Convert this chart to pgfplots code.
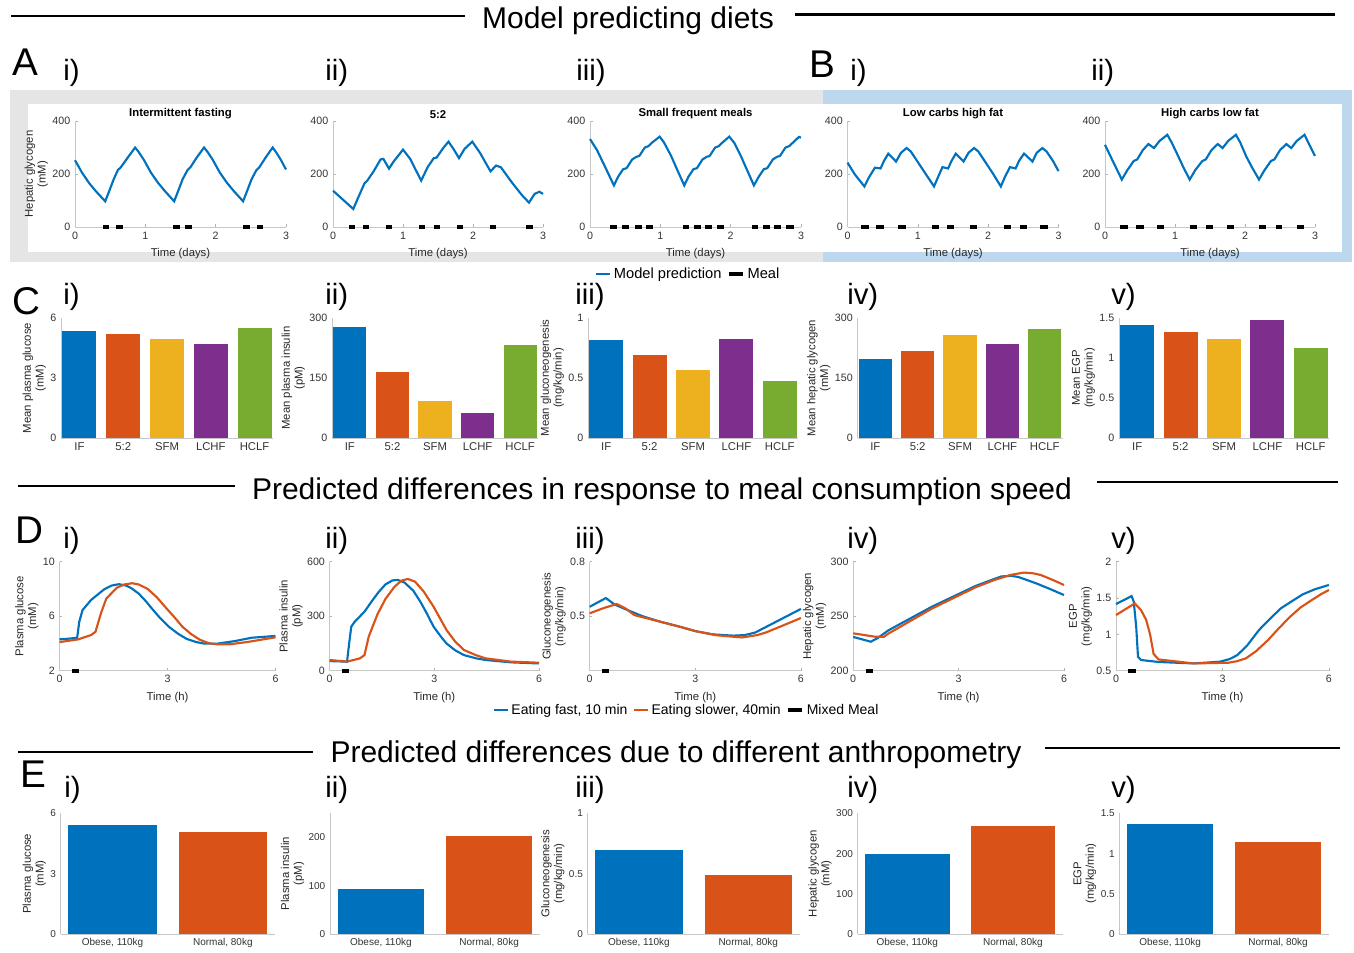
\documentclass[border=0pt]{standalone}
\usepackage{fontspec}
\setmainfont{Liberation Sans}
\usepackage{pgfplots}
\pgfplotsset{compat=1.18}

\definecolor{mblue}{RGB}{0,114,189}
\definecolor{morange}{RGB}{217,83,25}
\definecolor{myellow}{RGB}{237,177,32}
\definecolor{mpurple}{RGB}{126,47,142}
\definecolor{mgreen}{RGB}{119,172,48}
\definecolor{bgray}{RGB}{229,229,229}
\definecolor{bblue}{RGB}{189,215,238}

\newcommand{\px}{0.75pt}

\pgfplotsset{
  mstyle/.style={
    scale only axis, clip=false,
    axis lines=left,
    axis line style={-, draw=black!22, line width=0.6pt},
    every tick/.style={draw=black!30, line width=0.4pt},
    tick align=inside, major tick length=2pt,
    tick label style={font=\fontsize{8}{9}\selectfont, text=black!80},
    label style={font=\fontsize{8.5}{9.5}\selectfont, text=black!85},
    ylabel style={align=center, yshift=-3.5pt},
    /pgf/number format/assume math mode=true,
    title style={font=\bfseries\fontsize{8.5}{9.5}\selectfont, yshift=-8pt},
  },
  arow/.style={mstyle, height=79.5pt, xmin=0, xmax=3, ymin=0, ymax=400, xtick={0,1,2,3}, ytick={0,200,400}, xlabel={Time (days)}},
  crow/.style={mstyle, height=90pt, ybar, bar width=0.78, bar shift=0pt, xmin=0.58, xmax=5.42, ymin=0, xtick={1,2,3,4,5}, xticklabels={IF,5:2,SFM,LCHF,HCLF}, major tick length=0pt, xticklabel style={font=\fontsize{8.5}{9}\selectfont}},
  drow/.style={mstyle, height=81.75pt, xmin=0, xmax=6, xtick={0,3,6}, xlabel={Time (h)}},
  erow/.style={mstyle, height=90.5pt, ybar, bar width=0.8, bar shift=0pt, xmin=0.53, xmax=2.47, ymin=0, xtick={1,2}, xticklabels={{Obese, 110kg},{Normal, 80kg}}, major tick length=0pt, tick label style={font=\fontsize{7.5}{8}\selectfont}},
  cur/.style={line width=1.6pt, #1},
  meal/.style={black, line width=3pt, unbounded coords=jump},
  bb/.style={fill=#1, draw=none, bar shift=0pt},
}

\tikzset{
  big/.style={font=\fontsize{29}{30}\selectfont, anchor=base west, inner sep=0pt},
  rom/.style={font=\fontsize{22}{24}\selectfont, anchor=base west, inner sep=0pt},
  sect/.style={font=\fontsize{22.5}{24}\selectfont, anchor=base, inner sep=0pt},
}

\begin{document}
\begin{tikzpicture}
\begin{scope}[x=0.75pt,y=-0.75pt]
\useasboundingbox (0,0) rectangle (1354,947);
\fill[bgray] (10,90) rectangle (823,262);
\fill[bblue] (823,90) rectangle (1352,262);
\fill[white] (28,104) rectangle (1342,252);
% section titles
\node[sect] at (628,28) {Model predicting diets};
\draw[line width=2.2pt] (11,16)--(465,16);
\draw[line width=2.2pt] (795,14.5)--(1335,14.5);
\node[sect] at (662,499) {Predicted differences in response to meal consumption speed};
\draw[line width=2.2pt] (18,486)--(235,486);
\draw[line width=2.2pt] (1097,482)--(1338,482);
\node[sect] at (676,762) {Predicted differences due to different anthropometry};
\draw[line width=2.2pt] (18,752)--(313,752);
\draw[line width=2.2pt] (1045,748)--(1340,748);
% panel letters
\node[big] at (12,75) {A};
\node[rom] at (63,80.5) {i)};
\node[rom] at (325,80.5) {ii)};
\node[rom] at (576,80.5) {iii)};
\node[big] at (809,77) {B};
\node[rom] at (850,80.5) {i)};
\node[rom] at (1091,80.5) {ii)};
\node[big] at (12,314) {C};
\node[rom] at (63,304) {i)};
\node[rom] at (325,304) {ii)};
\node[rom] at (575,304) {iii)};
\node[rom] at (847,304) {iv)};
\node[rom] at (1111,304) {v)};
\node[big] at (15,543) {D};
\node[rom] at (63,548.5) {i)};
\node[rom] at (325,548.5) {ii)};
\node[rom] at (575,548.5) {iii)};
\node[rom] at (847,548.5) {iv)};
\node[rom] at (1111,548.5) {v)};
\node[big] at (20,787) {E};
\node[rom] at (64,797.5) {i)};
\node[rom] at (325,797.5) {ii)};
\node[rom] at (575,797.5) {iii)};
\node[rom] at (847,797.5) {iv)};
\node[rom] at (1111,797.5) {v)};
\end{scope}

%%%%%%%%%%%%%%%% ROW A
\begin{axis}[arow, at={(75*\px,-227*\px)}, anchor=south west, width=158.25pt, title={Intermittent fasting}, ylabel={Hepatic glycogen\\(mM)}]
\addplot[cur=mblue] coordinates {(0,252)(0.1,205)(0.2,166)(0.3,134)(0.43,97)(0.5,145)(0.55,180)(0.61,215)(0.65,225)(0.75,262)(0.855,300)(0.9,285)(0.98,253)(1.08,205)(1.18,167)(1.28,135)(1.41,97)(1.48,145)(1.53,180)(1.6,215)(1.64,225)(1.73,262)(1.835,300)(1.88,285)(1.96,253)(2.06,205)(2.16,167)(2.26,135)(2.39,97)(2.46,145)(2.51,180)(2.58,215)(2.62,225)(2.71,262)(2.81,300)(2.86,282)(2.93,252)(3.0,217)};
\addplot[meal] coordinates {(0.40,0)(0.48,0)(0.48,nan)(0.59,0)(0.68,0)(0.68,nan)(1.40,0)(1.49,0)(1.49,nan)(1.57,0)(1.67,0)(1.67,nan)(2.39,0)(2.49,0)(2.49,nan)(2.59,0)(2.68,0)};
\end{axis}

\begin{axis}[arow, at={(333*\px,-227*\px)}, anchor=south west, width=157.5pt, title={5:2}]
\addplot[cur=mblue] coordinates {(0,137)(0.29,68)(0.35,105)(0.45,165)(0.49,175)(0.58,210)(0.68,255)(0.72,257)(0.8,220)(0.86,245)(1.0,292)(1.1,258)(1.26,175)(1.35,225)(1.44,260)(1.48,262)(1.58,300)(1.65,322)(1.72,295)(1.8,260)(1.88,295)(1.99,322)(2.1,280)(2.25,210)(2.33,232)(2.4,225)(2.55,170)(2.7,120)(2.8,92)(2.88,125)(2.95,133)(3.0,125)};
\addplot[meal] coordinates {(0.235,0)(0.32,0)(0.32,nan)(0.43,0)(0.52,0)(0.52,nan)(0.755,0)(0.84,0)(0.84,nan)(1.23,0)(1.32,0)(1.32,nan)(1.44,0)(1.53,0)(1.53,nan)(1.77,0)(1.85,0)(1.85,nan)(2.24,0)(2.33,0)(2.33,nan)(2.76,0)(2.85,0)};
\end{axis}

\begin{axis}[arow, at={(590*\px,-227*\px)}, anchor=south west, width=158.25pt, title={Small frequent meals},
  legend style={at={(0.467,-0.443)}, anchor=center, draw=none, fill=none, font=\fontsize{11}{12}\selectfont, legend columns=-1, /tikz/every even column/.append style={column sep=2pt}, inner sep=0pt},
  legend image code/.code={\draw[#1] (0cm,0cm) -- (0.37cm,0cm);}]
\addplot[cur=mblue] coordinates {(0,332)(0.1,290)(0.2,235)(0.34,157)(0.4,190)(0.47,218)(0.52,222)(0.6,255)(0.66,265)(0.7,268)(0.78,300)(0.83,305)(0.88,318)(0.99,341)(1.05,320)(1.15,270)(1.25,210)(1.34,157)(1.4,190)(1.47,218)(1.52,222)(1.6,255)(1.66,265)(1.7,268)(1.78,300)(1.83,305)(1.88,318)(1.98,341)(2.05,318)(2.15,265)(2.25,205)(2.33,157)(2.4,190)(2.47,218)(2.52,222)(2.6,255)(2.66,265)(2.7,268)(2.78,300)(2.83,305)(2.9,322)(2.97,340)(3.0,337)};
\addlegendentry{Model prediction}
\addplot[meal] coordinates {(0.29,0)(0.38,0)(0.38,nan)(0.46,0)(0.56,0)(0.56,nan)(0.64,0)(0.74,0)(0.74,nan)(0.79,0)(0.89,0)(0.89,nan)(1.32,0)(1.41,0)(1.41,nan)(1.48,0)(1.58,0)(1.58,nan)(1.64,0)(1.74,0)(1.74,nan)(1.8,0)(1.91,0)(1.91,nan)(2.3,0)(2.39,0)(2.39,nan)(2.46,0)(2.56,0)(2.56,nan)(2.62,0)(2.72,0)(2.72,nan)(2.79,0)(2.9,0)};
\addlegendentry{Meal}
\end{axis}

\begin{axis}[arow, at={(847.5*\px,-227*\px)}, anchor=south west, width=158.25pt, title={Low carbs high fat}]
\addplot[cur=mblue] coordinates {(0,243)(0.1,200)(0.24,153)(0.3,185)(0.39,224)(0.47,221)(0.52,250)(0.58,277)(0.69,247)(0.76,280)(0.84,298)(0.9,285)(1.0,245)(1.1,205)(1.23,153)(1.29,190)(1.35,226)(1.43,221)(1.48,250)(1.54,277)(1.65,247)(1.72,280)(1.8,298)(1.86,285)(1.96,245)(2.06,205)(2.18,153)(2.24,190)(2.31,226)(2.39,221)(2.44,250)(2.51,277)(2.63,247)(2.69,280)(2.77,298)(2.83,285)(2.92,250)(3.0,211)};
\addplot[meal] coordinates {(0.19,0)(0.30,0)(0.30,nan)(0.41,0)(0.52,0)(0.52,nan)(0.72,0)(0.83,0)(0.83,nan)(1.2,0)(1.3,0)(1.3,nan)(1.42,0)(1.52,0)(1.52,nan)(1.74,0)(1.84,0)(1.84,nan)(2.22,0)(2.33,0)(2.33,nan)(2.45,0)(2.55,0)(2.55,nan)(2.74,0)(2.85,0)};
\end{axis}

\begin{axis}[arow, at={(1105*\px,-227*\px)}, anchor=south west, width=157.5pt, title={High carbs low fat}]
\addplot[cur=mblue] coordinates {(0,310)(0.1,255)(0.24,179)(0.32,215)(0.41,249)(0.46,255)(0.54,290)(0.62,313)(0.7,298)(0.78,325)(0.89,348)(0.95,320)(1.05,265)(1.12,225)(1.21,179)(1.29,215)(1.39,249)(1.44,255)(1.52,290)(1.61,313)(1.68,298)(1.76,325)(1.87,348)(1.93,320)(2.02,265)(2.1,225)(2.2,179)(2.28,215)(2.37,249)(2.42,255)(2.5,290)(2.59,313)(2.66,298)(2.74,325)(2.85,348)(2.92,310)(3.0,268)};
\addplot[meal] coordinates {(0.22,0)(0.33,0)(0.33,nan)(0.44,0)(0.55,0)(0.55,nan)(0.74,0)(0.84,0)(0.84,nan)(1.21,0)(1.31,0)(1.31,nan)(1.44,0)(1.54,0)(1.54,nan)(1.74,0)(1.84,0)(1.84,nan)(2.2,0)(2.3,0)(2.3,nan)(2.44,0)(2.53,0)(2.53,nan)(2.74,0)(2.84,0)};
\end{axis}

%%%%%%%%%%%%%%%% ROW C
\begin{axis}[crow, at={(61*\px,-438*\px)}, anchor=south west, width=159pt, ymax=6, ytick={0,3,6}, ylabel={Mean plasma glucose\\(mM)}]
\addplot[bb=mblue] coordinates {(1,5.37)};
\addplot[bb=morange] coordinates {(2,5.18)};
\addplot[bb=myellow] coordinates {(3,4.95)};
\addplot[bb=mpurple] coordinates {(4,4.72)};
\addplot[bb=mgreen] coordinates {(5,5.48)};
\end{axis}
\begin{axis}[crow, at={(332*\px,-438*\px)}, anchor=south west, width=154.5pt, ymax=300, ytick={0,150,300}, ylabel={Mean plasma insulin\\(pM)}]
\addplot[bb=mblue] coordinates {(1,277)};
\addplot[bb=morange] coordinates {(2,165)};
\addplot[bb=myellow] coordinates {(3,92.5)};
\addplot[bb=mpurple] coordinates {(4,62)};
\addplot[bb=mgreen] coordinates {(5,233)};
\end{axis}
\begin{axis}[crow, at={(588*\px,-438*\px)}, anchor=south west, width=157.5pt, ymax=1, ytick={0,0.5,1}, ylabel={Mean gluconeogenesis\\(mg/kg/min)}]
\addplot[bb=mblue] coordinates {(1,0.82)};
\addplot[bb=morange] coordinates {(2,0.69)};
\addplot[bb=myellow] coordinates {(3,0.567)};
\addplot[bb=mpurple] coordinates {(4,0.825)};
\addplot[bb=mgreen] coordinates {(5,0.475)};
\end{axis}
\begin{axis}[crow, at={(857.5*\px,-438*\px)}, anchor=south west, width=153.75pt, ymax=300, ytick={0,150,300}, ylabel={Mean hepatic glycogen\\(mM)}]
\addplot[bb=mblue] coordinates {(1,198)};
\addplot[bb=morange] coordinates {(2,218)};
\addplot[bb=myellow] coordinates {(3,258)};
\addplot[bb=mpurple] coordinates {(4,235)};
\addplot[bb=mgreen] coordinates {(5,272)};
\end{axis}
\begin{axis}[crow, at={(1119*\px,-438*\px)}, anchor=south west, width=157.5pt, ymax=1.5, ytick={0,0.5,1,1.5}, ylabel={Mean EGP\\(mg/kg/min)}]
\addplot[bb=mblue] coordinates {(1,1.409)};
\addplot[bb=morange] coordinates {(2,1.32)};
\addplot[bb=myellow] coordinates {(3,1.24)};
\addplot[bb=mpurple] coordinates {(4,1.47)};
\addplot[bb=mgreen] coordinates {(5,1.13)};
\end{axis}

%%%%%%%%%%%%%%%% ROW D
\begin{axis}[drow, at={(59.5*\px,-670.7*\px)}, anchor=south west, width=162pt, ymin=2, ymax=10, ytick={2,6,10}, ylabel={Plasma glucose\\(mM)}]
\addplot[cur=mblue] coordinates {(0,4.3)(0.25,4.35)(0.49,4.42)(0.55,5.6)(0.64,6.45)(0.88,7.2)(1.24,7.97)(1.45,8.25)(1.65,8.35)(1.85,8.25)(2.0,8.05)(2.2,7.66)(2.4,7.1)(2.57,6.55)(2.8,5.85)(3.05,5.2)(3.3,4.7)(3.53,4.34)(3.8,4.1)(4.0,4.0)(4.37,3.98)(4.86,4.17)(5.34,4.42)(6,4.55)};
\addplot[cur=morange] coordinates {(0,4.1)(0.52,4.3)(0.88,4.62)(1.0,4.86)(1.15,6.2)(1.3,7.3)(1.6,8.1)(1.8,8.33)(2.02,8.42)(2.2,8.33)(2.45,8.0)(2.7,7.4)(2.93,6.7)(3.2,5.9)(3.41,5.24)(3.65,4.7)(3.9,4.27)(4.15,4.02)(4.37,3.94)(4.73,3.94)(5.2,4.1)(6,4.45)};
\addplot[meal] coordinates {(0.35,2)(0.55,2)};
\end{axis}
\begin{axis}[drow, at={(329.6*\px,-670.7*\px)}, anchor=south west, width=157.05pt, ymin=0, ymax=600, ytick={0,300,600}, ylabel={Plasma insulin\\(pM)}]
\addplot[cur=mblue] coordinates {(0,53)(0.5,50)(0.56,150)(0.62,242)(0.72,270)(1.0,325)(1.2,380)(1.4,432)(1.6,475)(1.8,497)(1.95,500)(2.15,485)(2.4,440)(2.6,380)(2.8,310)(2.98,242)(3.2,185)(3.35,150)(3.6,112)(3.85,86)(4.2,68)(4.47,59)(5.2,46)(6,40)};
\addplot[cur=morange] coordinates {(0,59)(0.5,50)(0.87,68)(1.0,86)(1.12,187)(1.37,310)(1.6,395)(1.85,460)(2.05,495)(2.24,505)(2.45,490)(2.7,435)(2.98,352)(3.35,224)(3.6,160)(3.85,114)(4.2,85)(4.47,68)(5.2,50)(6,44)};
\addplot[meal] coordinates {(0.35,0)(0.55,0)};
\end{axis}
\begin{axis}[drow, at={(589.7*\px,-670.7*\px)}, anchor=south west, width=158.4pt, ymin=0.2, ymax=0.8, ytick={0.5,0.8}, ylabel={Gluconeogenesis\\(mg/kg/min)},
  legend style={at={(0.46,-0.36)}, anchor=center, draw=none, fill=none, font=\fontsize{10.5}{12}\selectfont, legend columns=-1, /tikz/every even column/.append style={column sep=2pt}, inner sep=0pt},
  legend image code/.code={\draw[#1] (0cm,0cm) -- (0.37cm,0cm);}]
\addplot[cur=mblue] coordinates {(0,0.552)(0.46,0.6)(0.7,0.565)(1.0,0.54)(1.5,0.5)(2.0,0.47)(2.6,0.44)(3,0.418)(3.5,0.4)(4.08,0.393)(4.4,0.396)(4.7,0.41)(5,0.44)(5.5,0.49)(6,0.54)};
\addlegendentry{Eating fast, 10 min}
\addplot[cur=morange] coordinates {(0,0.516)(0.4,0.545)(0.77,0.567)(1.0,0.545)(1.27,0.506)(2.0,0.47)(2.6,0.44)(3,0.418)(3.6,0.395)(4.33,0.383)(4.76,0.396)(5.0,0.41)(5.38,0.44)(6,0.49)};
\addlegendentry{Eating slower, 40min}
\addplot[meal] coordinates {(0.35,0.2)(0.55,0.2)};
\addlegendentry{Mixed Meal}
\end{axis}
\begin{axis}[drow, at={(853.2*\px,-670.7*\px)}, anchor=south west, width=158.1pt, ymin=200, ymax=300, ytick={200,250,300}, ylabel={Hepatic glycogen\\(mM)}]
\addplot[cur=mblue] coordinates {(0,231)(0.5,226.6)(0.7,230)(1.0,237)(2.24,258.7)(3.48,277.7)(4.0,284)(4.22,286.5)(4.5,287)(4.7,286)(5.22,280)(5.6,275)(6,269.4)};
\addplot[cur=morange] coordinates {(0,234.3)(0.62,231.2)(0.87,231)(1.0,234)(2.24,257)(3.48,276.5)(4.0,283)(4.47,287.8)(4.85,290)(5.1,289.5)(5.34,287.8)(5.7,283)(6,278.6)};
\addplot[meal] coordinates {(0.35,200)(0.55,200)};
\end{axis}
\begin{axis}[drow, at={(1116*\px,-670.7*\px)}, anchor=south west, width=159.7pt, ymin=0.5, ymax=2, ytick={0.5,1,1.5,2}, ylabel={EGP\\(mg/kg/min)}]
\addplot[cur=mblue] coordinates {(0,1.417)(0.44,1.527)(0.5,1.45)(0.57,1.1)(0.62,0.69)(0.71,0.647)(1.2,0.62)(2.19,0.6)(2.93,0.624)(3.2,0.66)(3.42,0.715)(3.7,0.85)(4.03,1.06)(4.35,1.22)(4.65,1.36)(5.0,1.47)(5.26,1.55)(5.6,1.62)(6,1.68)};
\addplot[cur=morange] coordinates {(0,1.266)(0.53,1.426)(0.71,1.33)(0.85,1.2)(0.96,1.0)(1.06,0.73)(1.2,0.655)(2.19,0.6)(3.17,0.61)(3.4,0.63)(3.66,0.67)(3.95,0.77)(4.28,0.92)(4.6,1.09)(4.9,1.24)(5.2,1.37)(5.51,1.47)(5.8,1.56)(6,1.61)};
\addplot[meal] coordinates {(0.35,0.5)(0.55,0.5)};
\end{axis}

%%%%%%%%%%%%%%%% ROW E
\begin{axis}[erow, at={(60.7*\px,-934*\px)}, anchor=south west, width=160.5pt, ymax=6, ytick={0,3,6}, ylabel={Plasma glucose\\(mM)}]
\addplot[bb=mblue] coordinates {(1,5.42)};
\addplot[bb=morange] coordinates {(2,5.09)};
\end{axis}
\begin{axis}[erow, at={(330*\px,-934*\px)}, anchor=south west, width=157.5pt, ymax=250, ytick={0,100,200}, ylabel={Plasma insulin\\(pM)}]
\addplot[bb=mblue] coordinates {(1,93)};
\addplot[bb=morange] coordinates {(2,204)};
\end{axis}
\begin{axis}[erow, at={(587.6*\px,-934*\px)}, anchor=south west, width=159pt, ymax=1, ytick={0,0.5,1}, ylabel={Gluconeogenesis\\(mg/kg/min)}]
\addplot[bb=mblue] coordinates {(1,0.70)};
\addplot[bb=morange] coordinates {(2,0.486)};
\end{axis}
\begin{axis}[erow, at={(857.6*\px,-934*\px)}, anchor=south west, width=153.75pt, ymax=300, ytick={0,100,200,300}, ylabel={Hepatic glycogen\\(mM)}]
\addplot[bb=mblue] coordinates {(1,199)};
\addplot[bb=morange] coordinates {(2,268)};
\end{axis}
\begin{axis}[erow, at={(1119.4*\px,-934*\px)}, anchor=south west, width=157.05pt, ymax=1.5, ytick={0,0.5,1,1.5}, ylabel={EGP\\(mg/kg/min)}]
\addplot[bb=mblue] coordinates {(1,1.363)};
\addplot[bb=morange] coordinates {(2,1.144)};
\end{axis}
\end{tikzpicture}
\end{document}
